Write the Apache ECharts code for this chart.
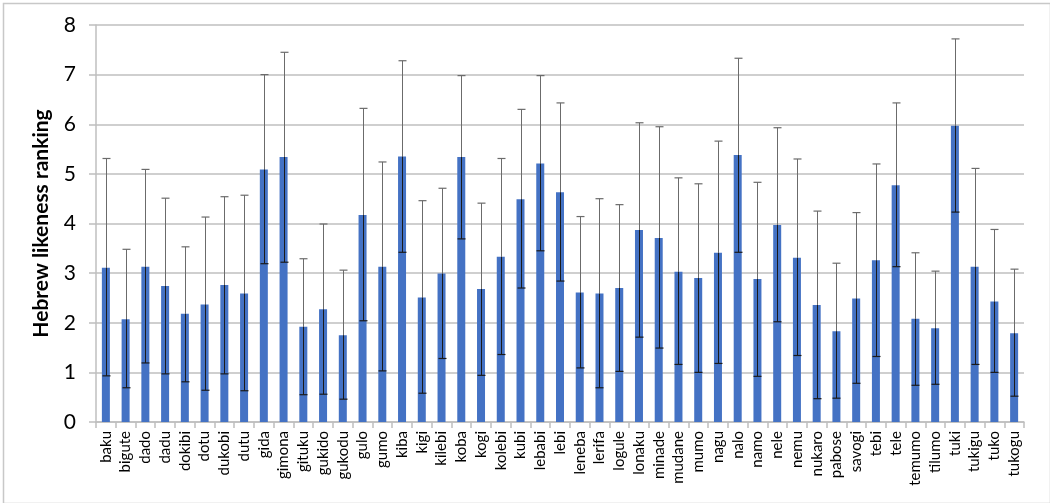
<!DOCTYPE html>
<html><head><meta charset="utf-8">
<script src="https://cdn.jsdelivr.net/npm/echarts@6/dist/echarts.min.js"></script>
<style>html,body{margin:0;padding:0;background:#fff}#c{width:1050px;height:503px}</style>
</head><body><div id="c"></div>
<script>
const categories = ["baku","bigute","dado","dadu","dokibi","dotu","dukobi","dutu","gida","gimona","gituku","gukido","gukodu","gulo","gumo","kiba","kigi","kilebi","koba","kogi","kolebi","kubi","lebabi","lebi","leneba","lerifa","logule","lonaku","minade","mudane","mumo","nagu","nalo","namo","nele","nemu","nukaro","pabose","savogi","tebi","tele","temumo","tilumo","tuki","tukigu","tuko","tukogu"];
const means = [3.11,2.07,3.13,2.74,2.18,2.37,2.76,2.59,5.09,5.34,1.92,2.27,1.75,4.17,3.13,5.35,2.51,2.99,5.34,2.68,3.33,4.49,5.21,4.63,2.61,2.59,2.70,3.87,3.71,3.03,2.90,3.41,5.38,2.88,3.97,3.31,2.36,1.83,2.49,3.26,4.77,2.08,1.89,5.97,3.13,2.43,1.79];
const errUpper = [5.31,3.48,5.09,4.51,3.53,4.13,4.54,4.57,7.00,7.45,3.29,3.99,3.06,6.32,5.24,7.28,4.46,4.71,6.98,4.41,5.31,6.30,6.98,6.43,4.14,4.50,4.38,6.03,5.95,4.92,4.80,5.66,7.33,4.83,5.93,5.30,4.25,3.20,4.22,5.20,6.43,3.41,3.04,7.72,5.11,3.88,3.08];
const errLower = [0.93,0.69,1.19,0.97,0.81,0.64,0.97,0.63,3.19,3.22,0.55,0.56,0.46,2.04,1.03,3.42,0.58,1.28,3.69,0.94,1.36,2.70,3.45,2.84,1.09,0.69,1.02,1.71,1.49,1.16,1.00,1.18,3.42,0.92,2.02,1.34,0.47,0.48,0.78,1.32,3.13,0.74,0.76,4.23,1.16,1.00,0.52];
const yTicks = [0,1,2,3,4,5,6,7,8];

const errData = categories.map((c,i)=>[i, errLower[i], errUpper[i], means[i]]);
const chart = echarts.init(document.getElementById('c'));
chart.setOption({
  animation:false,
  textStyle:{fontFamily:'Lato, "Open Sans", sans-serif'},
  graphic:[{type:'rect',left:1,top:1,shape:{width:1047,height:500},style:{fill:'none',stroke:'#c8c8c8',lineWidth:1.5},z:-1}],
  grid:{left:96,right:26,top:25,bottom:81},
  xAxis:{type:'category',data:categories,
    axisLine:{lineStyle:{color:'#bfbfbf',width:1.5}},
    axisTick:{show:true,length:6,lineStyle:{color:'#bfbfbf',width:1.5}},
    axisLabel:{rotate:90,fontSize:15,color:'#000',margin:9,interval:0}},
  yAxis:{type:'value',min:0,max:8,interval:1,
    name:'Hebrew likeness ranking',nameLocation:'middle',nameGap:44,
    nameTextStyle:{fontSize:21,fontWeight:'bold',color:'#000'},
    axisLine:{show:true,lineStyle:{color:'#bfbfbf',width:1.5}},
    axisTick:{show:true,length:7,lineStyle:{color:'#bfbfbf',width:1.5}},
    axisLabel:{fontSize:21,color:'#000',margin:20,formatter:v=>yTicks.includes(v)?String(v):''},
    splitLine:{lineStyle:{color:'#bfbfbf',width:1.5}}},
  series:[
    {type:'bar',data:means,barWidth:8,itemStyle:{color:'#4472C4'}},
    {type:'custom',data:errData,z:10,
     renderItem:(params,api)=>{
       const x=api.value(0);
       const lo=api.coord([x,api.value(1)]);
       const hi=api.coord([x,api.value(2)]);
       const mid=api.coord([x,api.value(3)]);
       const cx=Math.round(lo[0])+0.5, hw=4;
       return {type:'group',children:[
         {type:'line',shape:{x1:cx,y1:hi[1],x2:cx,y2:mid[1]},style:{stroke:'#6b6b6b',lineWidth:1}},
         {type:'line',shape:{x1:cx,y1:mid[1],x2:cx,y2:lo[1]},style:{stroke:'#1a1a1a',lineWidth:1}},
         {type:'line',shape:{x1:cx-hw,y1:hi[1],x2:cx+hw,y2:hi[1]},style:{stroke:'#6b6b6b',lineWidth:1.2}},
         {type:'line',shape:{x1:cx-hw,y1:lo[1],x2:cx+hw,y2:lo[1]},style:{stroke:'#1a1a1a',lineWidth:1.2}}
       ]};
     }}
  ]
});
</script></body></html>
